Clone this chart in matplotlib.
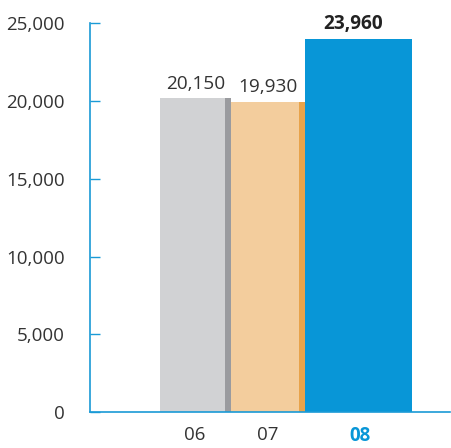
import matplotlib
matplotlib.use("Agg")
import matplotlib.pyplot as plt

plt.rcParams['font.family'] = ['Open Sans', 'DejaVu Sans']

years = ['06', '07', '08']
values = [20150, 19930, 23960]
value_labels = ['20,150', '19,930', '23,960']
y_ticks = [0, 5000, 10000, 15000, 20000, 25000]
y_tick_labels = ['0', '5,000', '10,000', '15,000', '20,000', '25,000']

# layout (x in pixel-like units from the left spine)
bar_left = [70, 141, 215]
bar_width = [65, 68, 107]
shadow_width = [6, 6, 0]
face = ['#d1d2d4', '#f3cd9d', '#0896d7']
shade = ['#9a9b9f', '#e8a34a', '#0896d7']
axis_blue = '#1a9ad6'
text_dark = '#333333'

fig = plt.figure(figsize=(4.51, 4.48), dpi=100)
ax = fig.add_axes([90/451, (448-412.3)/448, 360/451, (412.3-22.8)/448])

for i, v in enumerate(values):
    ax.bar(bar_left[i], v, width=bar_width[i], align='edge', color=face[i], linewidth=0)
    if shadow_width[i]:
        ax.bar(bar_left[i] + bar_width[i], v, width=shadow_width[i], align='edge',
               color=shade[i], linewidth=0)

label_x = [106, 178, 263]
for i, v in enumerate(values):
    last = i == len(values) - 1
    ax.text(label_x[i], v + 350, value_labels[i], ha='center', va='bottom',
            fontsize=13.7, color='#222222' if last else text_dark,
            fontweight='bold' if last else 'normal')

ax.set_xlim(0, 360)
ax.set_ylim(0, 25000)
ax.set_yticks(y_ticks)
ax.set_yticklabels(y_tick_labels)
tick_x = [105, 178, 270]
ax.set_xticks(tick_x)
ax.set_xticklabels(years)
for t, lab in zip(ax.get_xticklabels(), years):
    if lab == '08':
        t.set_color('#0896d7')
        t.set_fontweight('bold')
    else:
        t.set_color(text_dark)

ax.tick_params(axis='y', direction='in', length=7, width=1, color=axis_blue,
               labelsize=13.5, labelcolor=text_dark, pad=18)
ax.tick_params(axis='x', length=0, labelsize=13.5, pad=10)

for s in ['top', 'right']:
    ax.spines[s].set_visible(False)
for s in ['left', 'bottom']:
    ax.spines[s].set_color(axis_blue)
    ax.spines[s].set_linewidth(1.2)

fig.savefig('out.png', dpi=100)
